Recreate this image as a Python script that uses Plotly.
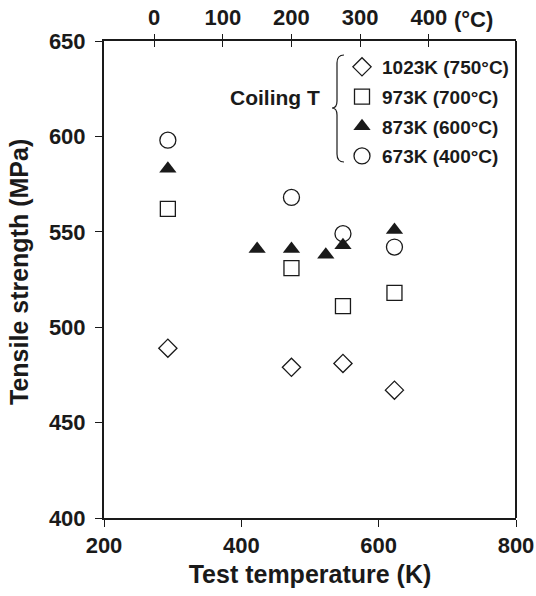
import plotly.graph_objects as go

# Data (test temperature in K, tensile strength in MPa)
temp_1023 = [293, 473, 548, 623]
ts_1023 = [489, 479, 481, 467]
temp_973 = [293, 473, 548, 623]
ts_973 = [562, 531, 511, 518]
temp_873 = [293, 423, 473, 523, 548, 623]
ts_873 = [583, 541, 541, 538, 543, 551]
temp_673 = [293, 473, 548, 623]
ts_673 = [598, 568, 549, 542]

names = ["1023K (750°C)", "973K (700°C)", "873K (600°C)", "673K (400°C)"]
x_ticks_K = [200, 400, 600, 800]
y_ticks = [400, 450, 500, 550, 600, 650]
top_ticks_C = [0, 100, 200, 300, 400]

FONT = "Liberation Sans, Arial, sans-serif"
INK = "#1a1a1a"
W, H = 536, 596
L, R, T, B = 104, 20, 41, 78

fig = go.Figure()
series = [
    (temp_1023, ts_1023, names[0], "diamond-open", 14),
    (temp_973, ts_973, names[1], "square-open", 15),
    (temp_873, ts_873, names[2], "triangle-up", 15),
    (temp_673, ts_673, names[3], "circle-open", 16),
]
for i, (xs, ys, nm, sym, sz) in enumerate(series):
    fig.add_trace(go.Scatter(
        x=xs, y=ys, mode="markers", name=nm, legendgroup=str(i),
        marker=dict(symbol=sym, size=sz, color=INK,
                    line=dict(color=INK, width=1.3 if "open" in sym else 0)),
    ))

# invisible traces to activate top axes
fig.add_trace(go.Scatter(x=[0], y=[500], xaxis="x2", mode="markers",
                         marker=dict(opacity=0), showlegend=False, hoverinfo="skip"))
fig.add_trace(go.Scatter(x=[0], y=[500], xaxis="x3", mode="markers",
                         marker=dict(opacity=0), showlegend=False, hoverinfo="skip"))

tickfont = dict(family=FONT, size=22, color=INK, weight="bold")
titlefont = dict(family=FONT, size=25, color=INK, weight="bold")

fig.update_layout(
    width=W, height=H,
    margin=dict(l=L, r=R, t=T, b=B, autoexpand=False),
    paper_bgcolor="white", plot_bgcolor="white",
    xaxis=dict(range=[200, 800], tickvals=x_ticks_K, ticks="outside", ticklen=7,
               tickwidth=1.2, tickcolor=INK, showline=True, linecolor=INK, linewidth=2,
               mirror=False, showgrid=False, zeroline=False, tickfont=tickfont,
               title=dict(text="Test temperature (K)", font=titlefont, standoff=8)),
    xaxis2=dict(range=[200 - 273, 800 - 273], overlaying="x", side="top",
                tickvals=top_ticks_C, ticks="outside", ticklen=5, tickwidth=1.2,
                tickcolor=INK, showline=True, linecolor=INK, linewidth=2,
                showgrid=False, zeroline=False, tickfont=tickfont),
    xaxis3=dict(range=[200 - 273, 800 - 273], overlaying="x", side="top",
                tickvals=top_ticks_C, ticks="inside", ticklen=6, tickwidth=1.2,
                tickcolor=INK, showticklabels=False, showline=False,
                showgrid=False, zeroline=False),
    yaxis=dict(range=[400, 650], tickvals=y_ticks, ticks="outside", ticklen=7,
               tickwidth=1.2, tickcolor=INK, showline=True, linecolor=INK, linewidth=2,
               mirror=False, showgrid=False, zeroline=False, tickfont=tickfont,
               ticklabelstandoff=5),
    legend=dict(x=(342 - L) / (W - L - R), y=(H - B - 48) / (H - T - B),
                xanchor="left", yanchor="top", bgcolor="rgba(0,0,0,0)",
                font=dict(family=FONT, size=19, color=INK, weight="bold"),
                traceorder="grouped", tracegroupgap=2, itemwidth=30),
    showlegend=True,
)

# right frame line
fig.add_shape(type="line", xref="paper", yref="paper", x0=1, x1=1, y0=0, y1=1,
              line=dict(color=INK, width=2))


def px(xp, yp):
    return ((xp - L) / (W - L - R), (H - B - yp) / (H - T - B))


# y-axis title
tx, ty = px(19, 272)
fig.add_annotation(x=tx, y=ty, xref="paper", yref="paper",
                   text="Tensile strength (MPa)", textangle=-90, showarrow=False,
                   xanchor="center", yanchor="middle", font=titlefont)

# brace decoration
pts = [(344, 55), (337, 55), (337, 63), (337, 101), (337, 108), (332, 108),
       (337, 108), (337, 115), (337, 154), (337, 162), (344, 162)]
p = [px(a, b) for a, b in pts]
path = (f"M {p[0][0]},{p[0][1]} Q {p[1][0]},{p[1][1]} {p[2][0]},{p[2][1]} "
        f"L {p[3][0]},{p[3][1]} Q {p[4][0]},{p[4][1]} {p[5][0]},{p[5][1]} "
        f"Q {p[6][0]},{p[6][1]} {p[7][0]},{p[7][1]} L {p[8][0]},{p[8][1]} "
        f"Q {p[9][0]},{p[9][1]} {p[10][0]},{p[10][1]}")
fig.add_shape(type="path", xref="paper", yref="paper", path=path,
              line=dict(color=INK, width=1.2))

cx, cy = px(322, 98)
fig.add_annotation(x=cx, y=cy, xref="paper", yref="paper", text="Coiling T",
                   showarrow=False, xanchor="right", yanchor="middle",
                   font=dict(family=FONT, size=21, color=INK, weight="bold"))
ux, uy = px(452, 19)
fig.add_annotation(x=ux, y=uy, xref="paper", yref="paper", text="(°C)",
                   showarrow=False, xanchor="left", yanchor="middle",
                   font=tickfont)

fig.write_html("out.html")
